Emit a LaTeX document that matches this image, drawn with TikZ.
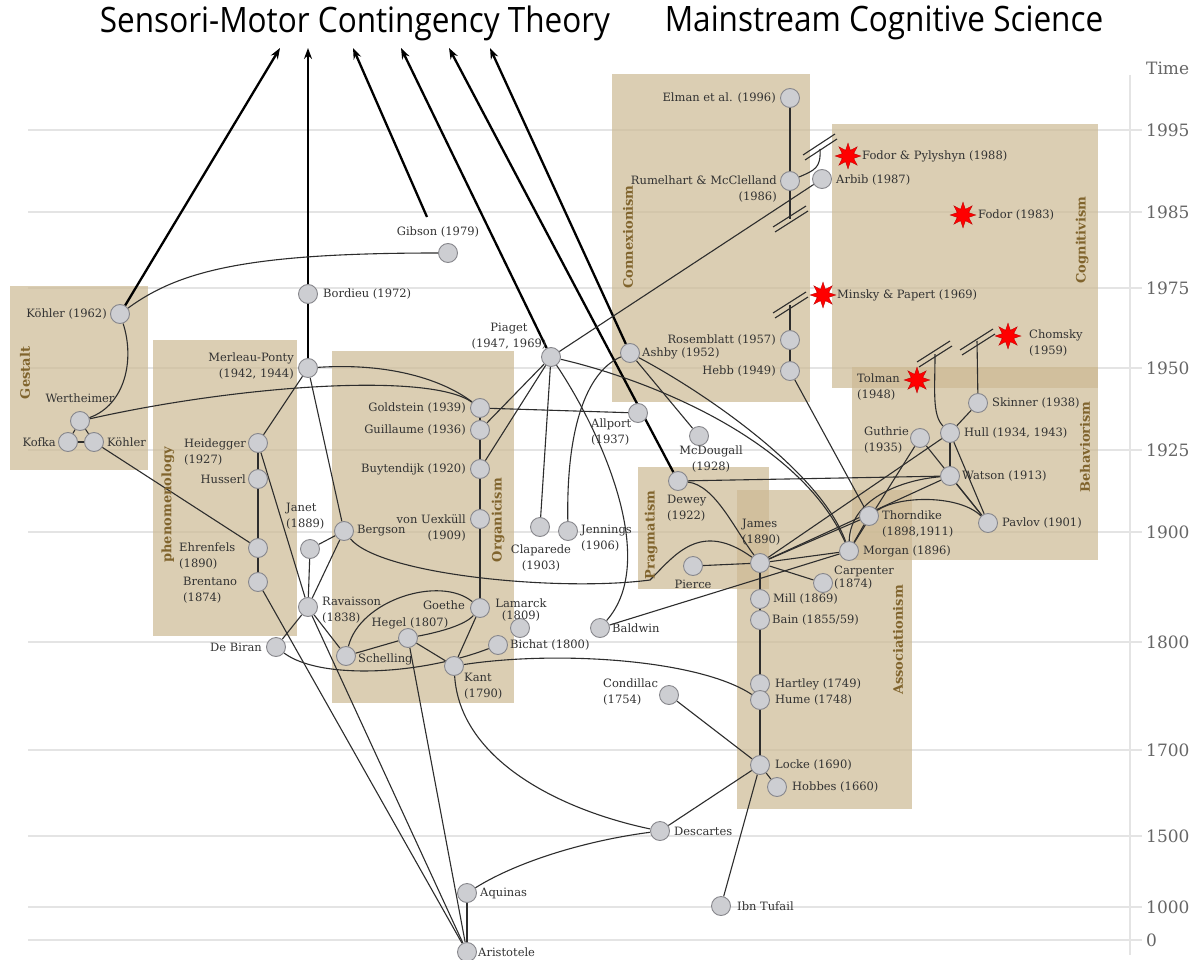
\documentclass[tikz,border=0pt]{standalone}
\usepackage{fontspec}
\setmainfont{DejaVu Serif}
\newfontfamily\titlefont{Open Sans}[FakeStretch=0.9]
\usetikzlibrary{shapes.geometric,arrows.meta}
\definecolor{boxc}{RGB}{205,186,148}
\definecolor{labc}{RGB}{128,100,45}
\definecolor{txt}{RGB}{50,50,50}
\definecolor{gridc}{RGB}{228,228,228}
\definecolor{nodefill}{RGB}{205,206,210}
\definecolor{nodedraw}{RGB}{135,135,140}
\definecolor{edgec}{RGB}{45,45,45}
\pgfdeclarelayer{bg}\pgfdeclarelayer{edges}\pgfsetlayers{bg,edges,main}
\tikzset{
  pn/.style={circle,draw=nodedraw,fill=nodefill,line width=0.9pt,minimum size=19pt,inner sep=0pt},
  st/.style={star,star points=8,star point ratio=2.1,fill=red,draw=red!70!black,line width=0.3pt,minimum size=26pt,inner sep=0pt},
  lbl/.style={text=txt,font=\fontsize{11.5}{16}\selectfont,inner sep=1pt},
  boxlab/.style={text=labc,font=\fontsize{13}{15}\selectfont\bfseries,rotate=90,inner sep=0pt},
  school/.style={fill=boxc,fill opacity=0.7,draw=none},
  ed/.style={draw=edgec,line width=1.1pt},
  thickarrow/.style={draw=black,line width=2.3pt,-{Stealth[length=11pt,width=8pt]}},
  brk/.style={draw=edgec,line width=1.1pt},
  gridline/.style={draw=gridc,line width=1.2pt},
  yr/.style={text=black!60,font=\fontsize{17}{19}\selectfont,anchor=west,inner sep=0pt},
  ttl/.style={font=\titlefont\fontsize{35}{40}\selectfont,text=black,inner sep=0pt}
}
\begin{document}
\begin{tikzpicture}[x=1pt,y=-1pt]
\useasboundingbox (0,0) rectangle (1193,960);
\begin{pgfonlayer}{bg}
\fill[white] (0,0) rectangle (1193,960);
\foreach \yy in {130,212,288,368,450,532,642,750,836,907,940}
  \draw[gridline] (28,\yy) -- (1142,\yy);
\draw[gridc,line width=1.2pt] (1130,75) -- (1130,955);
\fill[school] (10,286) rectangle (148,470);
\fill[school] (153,340) rectangle (297,636);
\fill[school] (332,351) rectangle (514,703);
\fill[school] (612,74) rectangle (810,402);
\fill[school] (832,124) rectangle (1098,388);
\fill[school] (852,367) rectangle (1098,560);
\fill[school] (638,467) rectangle (769,589);
\fill[school] (737,490) rectangle (912,809);
\end{pgfonlayer}

% titles and axis
\node[ttl] (title1) at (355,23) {Sensori-Motor Contingency Theory};
\node[ttl] (title2) at (884,23) {Mainstream Cognitive Science};
\node[yr] (tTime) at (1146,68) {Time};
\node[yr] (t1995) at (1146,130) {1995};
\node[yr] (t1985) at (1146,212) {1985};
\node[yr] (t1975) at (1146,288) {1975};
\node[yr] (t1950) at (1146,368) {1950};
\node[yr] (t1925) at (1146,450) {1925};
\node[yr] (t1900) at (1146,532) {1900};
\node[yr] (t1800) at (1146,642) {1800};
\node[yr] (t1700) at (1146,750) {1700};
\node[yr] (t1500) at (1146,836) {1500};
\node[yr] (t1000) at (1146,907) {1000};
\node[yr] (t0) at (1146,940) {0};

% school labels
\node[boxlab] (Lgestalt) at (25,373) {Gestalt};
\node[boxlab] (Lphen) at (168,505) {phenomenology};
\node[boxlab] (Lorg) at (498,520) {Organicism};
\node[boxlab] (Lconn) at (628,237) {Connexionism};
\node[boxlab] (Lcogn) at (1082,240) {Cognitivism};
\node[boxlab] (Lbeh) at (1085,447) {Behaviorism};
\node[boxlab] (Lprag) at (651,535) {Pragmatism};
\node[boxlab] (Lassoc) at (898,640) {Associationism};

% person nodes
\node[pn] (k1962) at (120,314) {};
\node[pn] (wert) at (80,421) {};
\node[pn] (kofka) at (68,442) {};
\node[pn] (kohler) at (94,442) {};
\node[pn] (bordieu) at (308,294) {};
\node[pn] (merleau) at (308,368) {};
\node[pn] (heid) at (258,443) {};
\node[pn] (husserl) at (258,479) {};
\node[pn] (ehren) at (258,548) {};
\node[pn] (brentano) at (258,582) {};
\node[pn] (janet) at (310,549) {};
\node[pn] (bergson) at (344,531) {};
\node[pn] (ravaisson) at (308,607) {};
\node[pn] (debiran) at (276,647) {};
\node[pn] (gibson) at (448,253) {};
\node[pn] (goldstein) at (480,408) {};
\node[pn] (guillaume) at (480,430) {};
\node[pn] (buyt) at (480,469) {};
\node[pn] (uexkull) at (480,519) {};
\node[pn] (goethe) at (480,608) {};
\node[pn] (lamarck) at (520,628) {};
\node[pn] (hegel) at (408,638) {};
\node[pn] (schelling) at (346,656) {};
\node[pn] (kant) at (454,666) {};
\node[pn] (bichat) at (498,645) {};
\node[pn] (piaget) at (551,357) {};
\node[pn] (claparede) at (540,527) {};
\node[pn] (jennings) at (568,531) {};
\node[pn] (allport) at (638,413) {};
\node[pn] (baldwin) at (600,628) {};
\node[pn] (mcdougall) at (699,436) {};
\node[pn] (elman) at (790,98) {};
\node[pn] (rumelhart) at (790,181) {};
\node[pn] (arbib) at (822,179) {};
\node[pn] (rosemblatt) at (790,340) {};
\node[pn] (hebb) at (790,371) {};
\node[pn] (ashby) at (630,353) {};
\node[pn] (skinner) at (978,403) {};
\node[pn] (hull) at (950,433) {};
\node[pn] (guthrie) at (920,438) {};
\node[pn] (watson) at (950,476) {};
\node[pn] (thorndike) at (869,516) {};
\node[pn] (pavlov) at (988,523) {};
\node[pn] (morgan) at (849,551) {};
\node[pn] (dewey) at (678,481) {};
\node[pn] (pierce) at (693,566) {};
\node[pn] (james) at (760,563) {};
\node[pn] (carpenter) at (823,583) {};
\node[pn] (mill) at (760,599) {};
\node[pn] (bain) at (760,620) {};
\node[pn] (hartley) at (760,684) {};
\node[pn] (hume) at (760,700) {};
\node[pn] (locke) at (760,765) {};
\node[pn] (hobbes) at (777,787) {};
\node[pn] (condillac) at (669,695) {};
\node[pn] (descartes) at (660,831) {};
\node[pn] (ibntufail) at (721,906) {};
\node[pn] (aquinas) at (467,893) {};
\node[pn] (aristotele) at (467,952) {};
% stars
\node[st] (fodorpyl) at (848,156) {};
\node[st] (fodor) at (963,215) {};
\node[st] (minsky) at (823,295) {};
\node[st] (chomsky) at (1008,336) {};
\node[st] (tolman) at (917,380) {};

% labels
\node[lbl,anchor=east] (Lk1962) at (108,314) {Köhler (1962)};
\node[lbl] (Lwert) at (80,398) {Wertheimer};
\node[lbl,anchor=east] (Lkofka) at (57,442) {Kofka};
\node[lbl,anchor=west] (Lkohler) at (106,442) {Köhler};
\node[lbl,anchor=west] (Lbordieu) at (322,294) {Bordieu (1972)};
\node[lbl,anchor=east,align=right] (Lmerleau) at (295,366) {Merleau-Ponty\\(1942, 1944)};
\node[lbl,anchor=east,align=left] (Lheid) at (247,452) {Heidegger\\(1927)};
\node[lbl,anchor=east] (Lhusserl) at (247,479) {Husserl};
\node[lbl,anchor=west,align=left] (Lehren) at (178,556) {Ehrenfels\\(1890)};
\node[lbl,anchor=west,align=left] (Lbrentano) at (182,590) {Brentano\\(1874)};
\node[lbl,anchor=west,align=left] (Ljanet) at (285,516) {Janet\\(1889)};
\node[lbl,anchor=west] (Lbergson) at (356,531) {Bergson};
\node[lbl,anchor=west,align=left] (Lravaisson) at (321,610) {Ravaisson\\(1838)};
\node[lbl,anchor=east] (Ldebiran) at (263,647) {De Biran};
\node[lbl] (Lgibson) at (438,232) {Gibson (1979)};
\node[lbl,anchor=east] (Lgoldstein) at (467,408) {Goldstein (1939)};
\node[lbl,anchor=east] (Lguillaume) at (467,430) {Guillaume (1936)};
\node[lbl,anchor=east] (Lbuyt) at (467,469) {Buytendijk (1920)};
\node[lbl,anchor=east,align=right] (Luexkull) at (467,528) {von Uexküll\\(1909)};
\node[lbl,anchor=east] (Lgoethe) at (466,605) {Goethe};
\node[lbl,align=center,font=\fontsize{11.5}{12.5}\selectfont] (Llamarck) at (521,610) {Lamarck\\(1809)};
\node[lbl] (Lhegel) at (410,623) {Hegel (1807)};
\node[lbl,anchor=west] (Lschelling) at (357,659) {Schelling};
\node[lbl,anchor=west,align=left] (Lkant) at (463,686) {Kant\\(1790)};
\node[lbl,anchor=west] (Lbichat) at (509,645) {Bichat (1800)};
\node[lbl,align=center] (Lpiaget) at (509,336) {Piaget\\(1947, 1969)};
\node[lbl,align=center] (Lclaparede) at (541,558) {Claparede\\(1903)};
\node[lbl,anchor=west,align=left] (Ljennings) at (580,538) {Jennings\\(1906)};
\node[lbl,anchor=west,align=left] (Lallport) at (590,432) {Allport\\(1937)};
\node[lbl,anchor=west] (Lbaldwin) at (611,628) {Baldwin};
\node[lbl,align=center] (Lmcdougall) at (711,459) {McDougall\\(1928)};
\node[lbl,anchor=east] (Lelman) at (777,98) {Elman et al. (1996)};
\node[lbl,anchor=east,align=right] (Lrumelhart) at (778,189) {Rumelhart \& McClelland\\(1986)};
\node[lbl,anchor=west] (Larbib) at (835,180) {Arbib (1987)};
\node[lbl,anchor=east] (Lrosemblatt) at (777,340) {Rosemblatt (1957)};
\node[lbl,anchor=east] (Lhebb) at (777,371) {Hebb (1949)};
\node[lbl,anchor=west] (Lashby) at (641,353) {Ashby (1952)};
\node[lbl,anchor=west] (Lfodorpyl) at (861,156) {Fodor \& Pylyshyn (1988)};
\node[lbl,anchor=west] (Lfodor) at (977,215) {Fodor (1983)};
\node[lbl,anchor=west] (Lminsky) at (836,295) {Minsky \& Papert (1969)};
\node[lbl,anchor=west,align=left] (Lchomsky) at (1028,343) {Chomsky\\(1959)};
\node[lbl,anchor=west,align=left] (Ltolman) at (856,387) {Tolman\\(1948)};
\node[lbl,anchor=west] (Lskinner) at (991,403) {Skinner (1938)};
\node[lbl,anchor=west] (Lhull) at (963,433) {Hull (1934, 1943)};
\node[lbl,anchor=west,align=left] (Lguthrie) at (863,440) {Guthrie\\(1935)};
\node[lbl,anchor=west] (Lwatson) at (961,476) {Watson (1913)};
\node[lbl,anchor=west,align=left] (Lthorndike) at (881,524) {Thorndike\\(1898,1911)};
\node[lbl,anchor=west] (Lpavlov) at (1001,523) {Pavlov (1901)};
\node[lbl,anchor=west] (Lmorgan) at (862,551) {Morgan (1896)};
\node[lbl,anchor=west,align=left] (Ldewey) at (666,508) {Dewey\\(1922)};
\node[lbl] (Lpierce) at (693,584) {Pierce};
\node[lbl,anchor=west,align=left] (Ljames) at (741,532) {James\\(1890)};
\node[lbl,anchor=west,align=left,font=\fontsize{11.5}{13}\selectfont] (Lcarpenter) at (833,578) {Carpenter\\(1874)};
\node[lbl,anchor=west] (Lmill) at (772,599) {Mill (1869)};
\node[lbl,anchor=west] (Lbain) at (771,620) {Bain (1855/59)};
\node[lbl,anchor=west] (Lhartley) at (774,684) {Hartley (1749)};
\node[lbl,anchor=west] (Lhume) at (774,700) {Hume (1748)};
\node[lbl,anchor=west] (Llocke) at (774,765) {Locke (1690)};
\node[lbl,anchor=west] (Lhobbes) at (791,787) {Hobbes (1660)};
\node[lbl,anchor=west,align=left] (Lcondillac) at (602,692) {Condillac\\(1754)};
\node[lbl,anchor=west] (Ldescartes) at (673,831) {Descartes};
\node[lbl,anchor=west] (Libntufail) at (736,906) {Ibn Tufail};
\node[lbl,anchor=west] (Laquinas) at (479,893) {Aquinas};
\node[lbl,anchor=west] (Laristotele) at (477,952) {Aristotele};

% free ends
\coordinate (a1) at (280,48);
\coordinate (a2) at (308,48);
\coordinate (a3) at (353,48);
\coordinate (a4) at (401,48);
\coordinate (a5) at (449,48);
\coordinate (a6) at (490,48);
\coordinate (gib0) at (427,217);
\coordinate (brFP) at (820,149);
\coordinate (brR) at (790,219);
\coordinate (brM) at (790,305);
\coordinate (brT) at (935,354);
\coordinate (brC) at (977,341);

\begin{pgfonlayer}{edges}
% thick arrows to SMCT
\draw[thickarrow] (k1962) -- (a1);
\draw[thickarrow] (merleau) -- (a2);
\draw[thickarrow] (gib0) -- (a3);
\draw[thickarrow] (piaget) -- (a4);
\draw[thickarrow] (dewey) -- (a5);
\draw[thickarrow] (ashby) -- (a6);
% gestalt
\draw[ed] (k1962) .. controls (180,270) and (250,253) .. (gibson);
\draw[ed] (k1962) .. controls (135,360) and (125,405) .. (wert);
\draw[ed] (wert) -- (kofka);
\draw[ed] (wert) -- (kohler);
\draw[ed] (kofka) -- (kohler);
\draw[ed] (wert) .. controls (240,385) and (430,372) .. (goldstein);
\draw[ed] (merleau) .. controls (400,362) and (450,385) .. (goldstein);
\draw[ed] (kohler) -- (ehren);
% phenomenology
\draw[ed] (heid) -- (husserl);
\draw[ed] (husserl) -- (ehren);
\draw[ed] (ehren) -- (brentano);
\draw[ed] (merleau) -- (heid);
\draw[ed] (heid) -- (ravaisson);
\draw[ed] (brentano) -- (aristotele);
\draw[ed] (merleau) -- (bergson);
\draw[ed] (bergson) -- (janet);
\draw[ed] (janet) -- (ravaisson);
\draw[ed] (bergson) -- (ravaisson);
\draw[ed] (bergson) .. controls (380,575) and (560,592) .. (650,580) .. controls (675,555) and (700,520) .. (james);
\draw[ed] (ravaisson) -- (debiran);
\draw[ed] (ravaisson) -- (schelling);
\draw[ed] (ravaisson) -- (aristotele);
\draw[ed] (debiran) .. controls (320,680) and (420,675) .. (bichat);
% organicism
\draw[ed] (goldstein) -- (guillaume);
\draw[ed] (guillaume) -- (buyt);
\draw[ed] (buyt) -- (uexkull);
\draw[ed] (uexkull) -- (goethe);
\draw[ed] (goldstein) -- (allport);
\draw[ed] (piaget) -- (guillaume);
\draw[ed] (piaget) -- (buyt);
\draw[ed] (piaget) -- (claparede);
\draw[ed] (piaget) -- (arbib);
\draw[ed] (piaget) .. controls (600,430) and (660,560) .. (baldwin);
\draw[ed] (piaget) .. controls (650,380) and (800,440) .. (morgan);
\draw[ed] (schelling) .. controls (360,600) and (440,575) .. (goethe);
\draw[ed] (schelling) -- (hegel);
\draw[ed] (hegel) .. controls (440,632) and (465,625) .. (goethe);
\draw[ed] (hegel) -- (kant);
\draw[ed] (goethe) -- (kant);
\draw[ed] (hegel) -- (aristotele);
\draw[ed] (kant) .. controls (460,760) and (560,810) .. (descartes);
\draw[ed] (kant) .. controls (560,650) and (700,660) .. (hume);
\draw[ed] (jennings) .. controls (566,420) and (590,370) .. (ashby);
% connexionism
\draw[ed] (ashby) -- (mcdougall);
\draw[ed] (ashby) .. controls (700,390) and (820,470) .. (morgan);
\draw[ed] (elman) -- (rumelhart);
\draw[ed] (rumelhart) -- (brR);
\draw[ed] (rumelhart) .. controls (815,170) and (821,168) .. (brFP);
\draw[ed] (rosemblatt) -- (brM);
\draw[ed] (rosemblatt) -- (hebb);
\draw[ed] (hebb) -- (thorndike);
\draw[brk] (803,155) -- (835,134);
\draw[brk] (805,160) -- (837,139);
\draw[brk] (773,227) -- (806,206);
\draw[brk] (775,232) -- (808,211);
\draw[brk] (773,313) -- (806,292);
\draw[brk] (775,318) -- (808,297);
% behaviorism
\draw[ed] (hull) .. controls (932,415) and (935,390) .. (brT);
\draw[ed] (skinner) -- (brC);
\draw[brk] (917,362) -- (950,341);
\draw[brk] (919,367) -- (952,346);
\draw[brk] (960,350) -- (993,329);
\draw[brk] (962,355) -- (995,334);
\draw[ed] (skinner) -- (hull);
\draw[ed] (hull) -- (watson);
\draw[ed] (hull) -- (pavlov);
\draw[ed] (watson) -- (pavlov);
\draw[ed] (guthrie) -- (pavlov);
\draw[ed] (thorndike) .. controls (900,495) and (960,495) .. (pavlov);
\draw[ed] (guthrie) -- (morgan);
\draw[ed] (morgan) -- (thorndike);
\draw[ed] (morgan) .. controls (850,500) and (900,480) .. (watson);
\draw[ed] (james) -- (hull);
\draw[ed] (james) -- (watson);
\draw[ed] (james) -- (thorndike);
\draw[ed] (james) -- (morgan);
\draw[ed] (baldwin) -- (morgan);
% pragmatism / associationism
\draw[ed] (dewey) -- (watson);
\draw[ed] (dewey) .. controls (715,485) and (735,530) .. (james);
\draw[ed] (pierce) -- (james);
\draw[ed] (james) -- (carpenter);
\draw[ed] (james) -- (mill);
\draw[ed] (mill) -- (bain);
\draw[ed] (bain) -- (hartley);
\draw[ed] (hartley) -- (hume);
\draw[ed] (hume) -- (locke);
\draw[ed] (locke) -- (hobbes);
\draw[ed] (locke) -- (condillac);
\draw[ed] (locke) -- (descartes);
\draw[ed] (locke) -- (ibntufail);
\draw[ed] (aquinas) .. controls (520,860) and (590,840) .. (descartes);
\draw[ed] (aquinas) -- (aristotele);
\end{pgfonlayer}
\end{tikzpicture}
\end{document}
